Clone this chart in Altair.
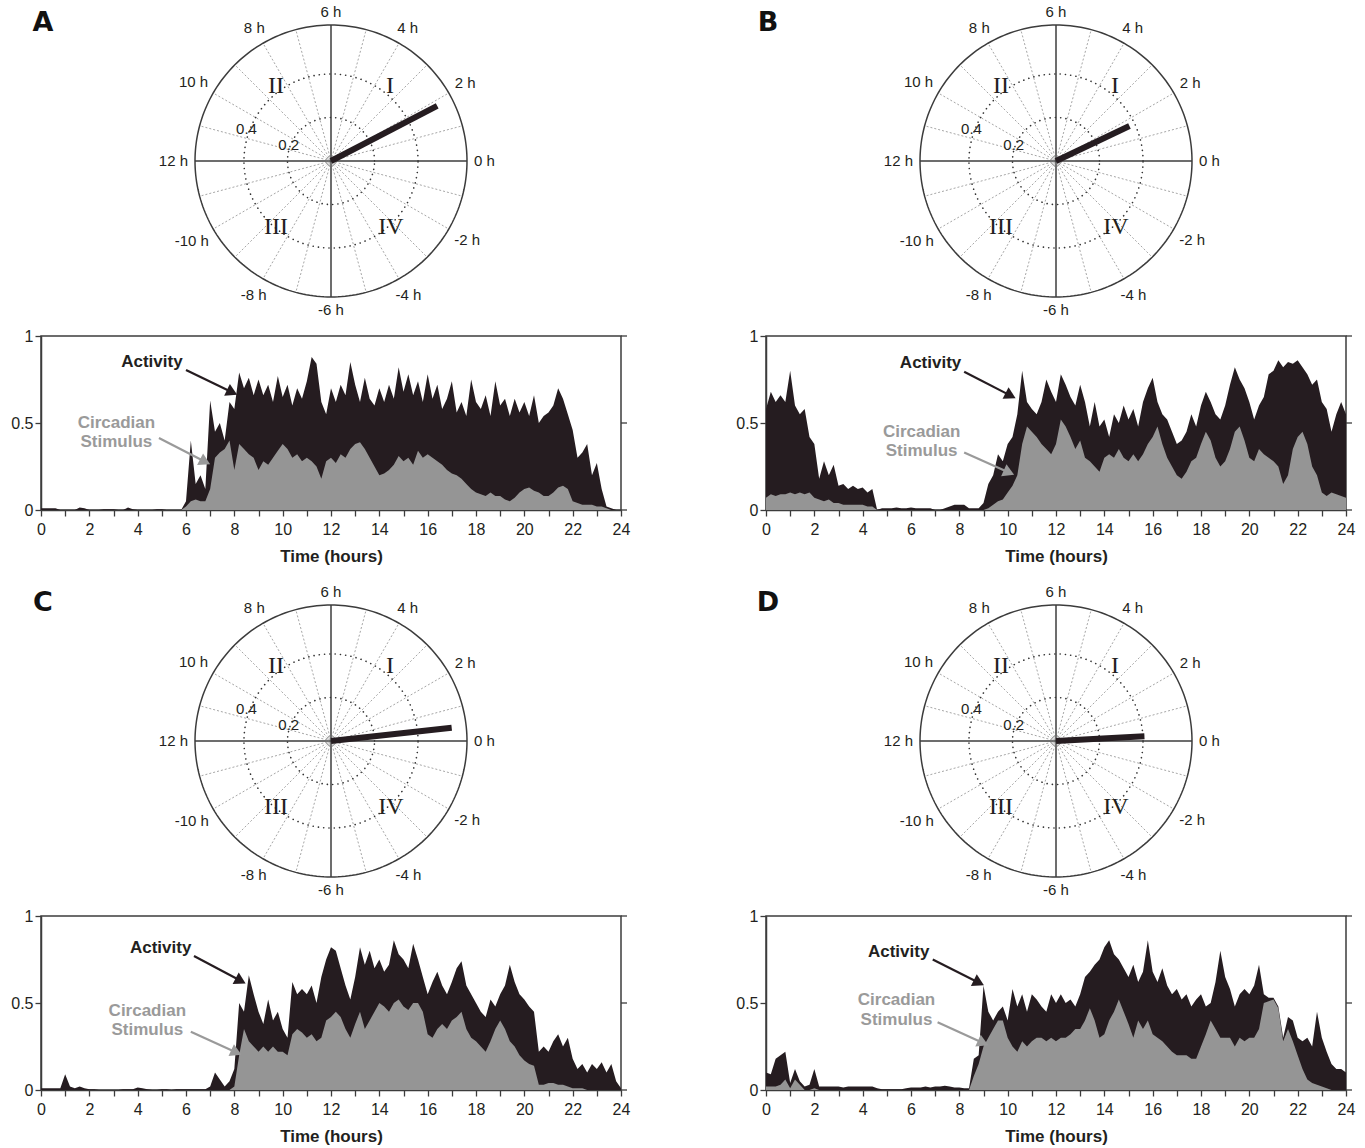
import math
import numpy as np
import pandas as pd
import altair as alt

# ---------------------------------------------------------------- data
# sample grid of the traces (hours)
HOURS = [round(0.2 * i, 1) for i in range(121)]

ACT_A = [
    0.01, 0.01, 0.01, 0.01, 0.00, 0.00, 0.00, 0.00, 0.015, 0.01,
    0.00, 0.00, 0.00, 0.005, 0.005, 0.005, 0.00, 0.00, 0.015, 0.005,
    0.00, 0.00, 0.00, 0.00, 0.005, 0.005, 0.00, 0.00, 0.00, 0.00,
    0.05, 0.40, 0.15, 0.20, 0.12, 0.63, 0.45, 0.50, 0.40, 0.62,
    0.58, 0.79, 0.70, 0.76, 0.66, 0.75, 0.66, 0.72, 0.62, 0.77,
    0.65, 0.72, 0.60, 0.70, 0.64, 0.74, 0.88, 0.84, 0.62, 0.55,
    0.70, 0.62, 0.72, 0.66, 0.85, 0.72, 0.62, 0.76, 0.64, 0.60,
    0.70, 0.62, 0.72, 0.64, 0.82, 0.68, 0.78, 0.66, 0.74, 0.62,
    0.78, 0.64, 0.72, 0.58, 0.64, 0.74, 0.56, 0.62, 0.54, 0.75,
    0.62, 0.58, 0.66, 0.54, 0.74, 0.60, 0.64, 0.54, 0.64, 0.56,
    0.62, 0.54, 0.66, 0.50, 0.54, 0.56, 0.60, 0.70, 0.64, 0.55,
    0.46, 0.30, 0.33, 0.38, 0.20, 0.27, 0.12, 0.02, 0.01, 0.00,
    0.00,
]
STIM_A = [
    0.00, 0.00, 0.00, 0.00, 0.00, 0.00, 0.00, 0.00, 0.00, 0.00,
    0.00, 0.00, 0.00, 0.00, 0.00, 0.00, 0.00, 0.00, 0.00, 0.00,
    0.00, 0.00, 0.00, 0.00, 0.00, 0.00, 0.00, 0.00, 0.00, 0.00,
    0.02, 0.05, 0.06, 0.05, 0.05, 0.12, 0.30, 0.33, 0.35, 0.40,
    0.23, 0.38, 0.35, 0.32, 0.30, 0.23, 0.28, 0.26, 0.30, 0.34,
    0.38, 0.35, 0.30, 0.32, 0.28, 0.30, 0.28, 0.25, 0.18, 0.28,
    0.30, 0.27, 0.32, 0.30, 0.35, 0.38, 0.39, 0.35, 0.30, 0.25,
    0.20, 0.21, 0.23, 0.26, 0.31, 0.28, 0.30, 0.26, 0.34, 0.30,
    0.32, 0.30, 0.28, 0.26, 0.23, 0.21, 0.20, 0.18, 0.15, 0.12,
    0.10, 0.09, 0.08, 0.10, 0.08, 0.08, 0.06, 0.05, 0.07, 0.10,
    0.12, 0.13, 0.11, 0.10, 0.08, 0.08, 0.10, 0.13, 0.14, 0.12,
    0.05, 0.04, 0.03, 0.03, 0.03, 0.02, 0.02, 0.01, 0.00, 0.00,
    0.00,
]
ACT_B = [
    0.58, 0.68, 0.62, 0.66, 0.62, 0.80, 0.60, 0.55, 0.58, 0.42,
    0.38, 0.18, 0.28, 0.20, 0.26, 0.14, 0.15, 0.12, 0.14, 0.12,
    0.13, 0.10, 0.12, 0.00, 0.01, 0.01, 0.01, 0.015, 0.01, 0.01,
    0.015, 0.01, 0.01, 0.01, 0.01, 0.00, 0.00, 0.01, 0.02, 0.03,
    0.03, 0.03, 0.01, 0.01, 0.01, 0.04, 0.15, 0.20, 0.32, 0.28,
    0.38, 0.42, 0.55, 0.80, 0.62, 0.58, 0.55, 0.62, 0.75, 0.68,
    0.62, 0.78, 0.72, 0.65, 0.60, 0.72, 0.62, 0.48, 0.62, 0.48,
    0.52, 0.42, 0.55, 0.50, 0.60, 0.52, 0.58, 0.48, 0.62, 0.70,
    0.76, 0.62, 0.55, 0.52, 0.45, 0.38, 0.40, 0.45, 0.55, 0.48,
    0.60, 0.68, 0.62, 0.55, 0.52, 0.60, 0.72, 0.82, 0.75, 0.70,
    0.62, 0.52, 0.60, 0.65, 0.78, 0.80, 0.86, 0.82, 0.85, 0.84,
    0.86, 0.82, 0.78, 0.72, 0.75, 0.62, 0.58, 0.45, 0.55, 0.62,
    0.55,
]
STIM_B = [
    0.07, 0.09, 0.08, 0.09, 0.09, 0.10, 0.09, 0.10, 0.09, 0.10,
    0.07, 0.06, 0.05, 0.06, 0.04, 0.04, 0.03, 0.03, 0.03, 0.03,
    0.03, 0.02, 0.02, 0.00, 0.00, 0.00, 0.00, 0.00, 0.00, 0.00,
    0.00, 0.00, 0.00, 0.00, 0.00, 0.00, 0.00, 0.00, 0.00, 0.00,
    0.00, 0.00, 0.00, 0.00, 0.00, 0.00, 0.01, 0.03, 0.05, 0.06,
    0.10, 0.14, 0.20, 0.38, 0.48, 0.45, 0.42, 0.38, 0.35, 0.32,
    0.38, 0.52, 0.48, 0.42, 0.35, 0.40, 0.30, 0.28, 0.25, 0.22,
    0.30, 0.32, 0.30, 0.35, 0.30, 0.28, 0.32, 0.28, 0.32, 0.38,
    0.42, 0.48, 0.38, 0.30, 0.25, 0.20, 0.18, 0.22, 0.28, 0.30,
    0.38, 0.45, 0.40, 0.30, 0.25, 0.28, 0.35, 0.45, 0.48, 0.40,
    0.30, 0.28, 0.35, 0.32, 0.30, 0.28, 0.25, 0.15, 0.20, 0.35,
    0.42, 0.45, 0.38, 0.25, 0.20, 0.10, 0.08, 0.10, 0.09, 0.08,
    0.07,
]
ACT_C = [
    0.01, 0.01, 0.01, 0.01, 0.01, 0.09, 0.02, 0.01, 0.02, 0.01,
    0.005, 0.005, 0.00, 0.00, 0.00, 0.00, 0.00, 0.005, 0.005, 0.005,
    0.015, 0.01, 0.005, 0.00, 0.00, 0.005, 0.005, 0.00, 0.005, 0.005,
    0.005, 0.005, 0.005, 0.005, 0.005, 0.02, 0.10, 0.06, 0.02, 0.05,
    0.12, 0.50, 0.45, 0.66, 0.55, 0.45, 0.38, 0.52, 0.40, 0.45,
    0.35, 0.30, 0.62, 0.55, 0.58, 0.55, 0.60, 0.50, 0.65, 0.75,
    0.82, 0.80, 0.70, 0.60, 0.52, 0.65, 0.82, 0.72, 0.80, 0.70,
    0.75, 0.68, 0.72, 0.86, 0.78, 0.75, 0.70, 0.84, 0.75, 0.65,
    0.55, 0.62, 0.68, 0.60, 0.55, 0.62, 0.70, 0.74, 0.60, 0.55,
    0.50, 0.45, 0.42, 0.52, 0.48, 0.55, 0.60, 0.72, 0.62, 0.55,
    0.52, 0.48, 0.45, 0.22, 0.25, 0.22, 0.28, 0.32, 0.25, 0.30,
    0.18, 0.12, 0.15, 0.10, 0.15, 0.12, 0.16, 0.10, 0.15, 0.05,
    0.01,
]
STIM_C = [
    0.00, 0.00, 0.00, 0.00, 0.00, 0.00, 0.00, 0.00, 0.00, 0.00,
    0.00, 0.00, 0.00, 0.00, 0.00, 0.00, 0.00, 0.00, 0.00, 0.00,
    0.00, 0.00, 0.00, 0.00, 0.00, 0.00, 0.00, 0.00, 0.00, 0.00,
    0.00, 0.00, 0.00, 0.00, 0.00, 0.00, 0.00, 0.00, 0.00, 0.00,
    0.02, 0.20, 0.35, 0.28, 0.25, 0.22, 0.25, 0.22, 0.25, 0.22,
    0.22, 0.20, 0.32, 0.35, 0.33, 0.30, 0.32, 0.28, 0.30, 0.40,
    0.42, 0.45, 0.42, 0.35, 0.30, 0.38, 0.45, 0.35, 0.40, 0.45,
    0.50, 0.48, 0.45, 0.50, 0.52, 0.48, 0.46, 0.50, 0.50, 0.45,
    0.32, 0.30, 0.35, 0.38, 0.35, 0.40, 0.42, 0.45, 0.35, 0.30,
    0.28, 0.25, 0.22, 0.28, 0.35, 0.40, 0.35, 0.28, 0.25, 0.20,
    0.17, 0.15, 0.14, 0.03, 0.03, 0.04, 0.04, 0.03, 0.03, 0.02,
    0.01, 0.01, 0.01, 0.00, 0.00, 0.00, 0.00, 0.00, 0.00, 0.00,
    0.00,
]
ACT_D = [
    0.10, 0.09, 0.18, 0.20, 0.22, 0.04, 0.12, 0.05, 0.02, 0.03,
    0.12, 0.02, 0.02, 0.02, 0.02, 0.02, 0.015, 0.02, 0.02, 0.02,
    0.02, 0.02, 0.02, 0.01, 0.005, 0.005, 0.005, 0.005, 0.005, 0.01,
    0.015, 0.015, 0.015, 0.02, 0.015, 0.02, 0.02, 0.025, 0.02, 0.015,
    0.015, 0.01, 0.01, 0.18, 0.20, 0.60, 0.45, 0.40, 0.45, 0.48,
    0.40, 0.58, 0.48, 0.55, 0.45, 0.55, 0.52, 0.48, 0.45, 0.55,
    0.50, 0.55, 0.50, 0.52, 0.48, 0.55, 0.65, 0.68, 0.72, 0.75,
    0.82, 0.86, 0.78, 0.75, 0.70, 0.65, 0.72, 0.62, 0.68, 0.86,
    0.68, 0.62, 0.70, 0.60, 0.55, 0.58, 0.52, 0.55, 0.48, 0.52,
    0.55, 0.48, 0.50, 0.62, 0.80, 0.65, 0.58, 0.48, 0.55, 0.58,
    0.55, 0.60, 0.72, 0.55, 0.53, 0.53, 0.48, 0.30, 0.42, 0.40,
    0.30, 0.28, 0.30, 0.25, 0.45, 0.30, 0.22, 0.15, 0.12, 0.12,
    0.10,
]
STIM_D = [
    0.02, 0.02, 0.02, 0.03, 0.06, 0.01, 0.06, 0.03, 0.00, 0.00,
    0.01, 0.00, 0.00, 0.00, 0.00, 0.00, 0.00, 0.00, 0.00, 0.00,
    0.00, 0.00, 0.00, 0.00, 0.00, 0.00, 0.00, 0.00, 0.00, 0.00,
    0.00, 0.00, 0.00, 0.00, 0.00, 0.00, 0.00, 0.00, 0.00, 0.00,
    0.00, 0.00, 0.00, 0.08, 0.15, 0.25, 0.30, 0.35, 0.40, 0.40,
    0.30, 0.25, 0.22, 0.28, 0.25, 0.28, 0.30, 0.30, 0.28, 0.30,
    0.28, 0.30, 0.30, 0.32, 0.35, 0.35, 0.40, 0.47, 0.40, 0.30,
    0.32, 0.40, 0.45, 0.52, 0.45, 0.38, 0.30, 0.40, 0.35, 0.40,
    0.32, 0.30, 0.28, 0.25, 0.22, 0.20, 0.20, 0.20, 0.18, 0.18,
    0.25, 0.32, 0.40, 0.35, 0.30, 0.30, 0.30, 0.25, 0.30, 0.28,
    0.30, 0.30, 0.35, 0.50, 0.51, 0.52, 0.47, 0.28, 0.35, 0.28,
    0.20, 0.12, 0.06, 0.04, 0.03, 0.02, 0.01, 0.00, 0.00, 0.00,
    0.00,
]

# phase vector of each dial: (hours, magnitude)
VECTORS = {"A": (1.83, 0.55), "B": (1.70, 0.374), "C": (0.42, 0.558), "D": (0.21, 0.407)}

# dial labels
HOUR_TICKS = [0, 2, 4, 6, 8, 10, 12, -10, -8, -6, -4, -2]
HOUR_TEXT = ["0 h", "2 h", "4 h", "6 h", "8 h", "10 h", "12 h", "-10 h", "-8 h", "-6 h", "-4 h", "-2 h"]
RING_VALUES = [0.2, 0.4]
RING_TEXT = ["0.2", "0.4"]
QUADRANTS = ["I", "II", "III", "IV"]

# trace axes
X_TICKS = list(range(25))
Y_TICKS = [0, 0.5, 1]

# annotation anchors per panel (hours, value)
ANNOT = {
    "A": dict(act_txt=(4.59, 0.852), stim_txt=(3.12, 0.50, 0.39),
              act_arrow=(6.0, 0.805, 8.15, 0.66), stim_arrow=(4.88, 0.414, 7.03, 0.26)),
    "B": dict(act_txt=(6.81, 0.843), stim_txt=(6.44, 0.446, 0.337),
              act_arrow=(8.2, 0.795, 10.36, 0.64), stim_arrow=(8.2, 0.33, 10.3, 0.2)),
    "C": dict(act_txt=(4.95, 0.818), stim_txt=(4.40, 0.456, 0.347),
              act_arrow=(6.33, 0.77, 8.5, 0.61), stim_arrow=(6.2, 0.335, 8.33, 0.2)),
    "D": dict(act_txt=(5.49, 0.795), stim_txt=(5.40, 0.52, 0.405),
              act_arrow=(6.9, 0.75, 9.05, 0.6), stim_arrow=(7.1, 0.39, 9.23, 0.255)),
}
SERIES = {"A": (ACT_A, STIM_A), "B": (ACT_B, STIM_B), "C": (ACT_C, STIM_C), "D": (ACT_D, STIM_D)}
for k, (a, s) in SERIES.items():
    assert len(a) == len(HOURS) and len(s) == len(HOURS), k

# ---------------------------------------------------------------- style
ACT_COLOR = "#251c20"
STIM_COLOR = "#959595"
GREY_TXT = "#9a9a9a"
INK = "#231f20"
FRAME = "#3c3c3c"
SANS = "Liberation Sans"

# ---------------------------------------------------------------- dial geometry
PX_PER_UNIT = 217.6
DIAL_R = 0.625
DIAL_W, DIAL_H = 580, 336
DIAL_CX, DIAL_CY = 290, 161
ROW_GAP = 70          # blank band above the lower dials


def px(v):
    return v / PX_PER_UNIT


def ring(r, n=241):
    a = np.linspace(0, 2 * np.pi, n)
    return pd.DataFrame({"x": r * np.cos(a), "y": r * np.sin(a), "k": np.arange(n)})


def halfwidth(s, size=15):
    w = {"-": 0.333, " ": 0.278}
    return 0.5 * size * sum(w.get(c, 0.556) for c in s)


def dial(letter, top_gap=0):
    hours, mag = VECTORS[letter]
    R = DIAL_R
    rpx = R * PX_PER_UNIT
    height = DIAL_H + top_gap
    cy = DIAL_CY + top_gap
    xs = alt.Scale(domain=[-px(DIAL_CX), px(DIAL_W - DIAL_CX)], nice=False, zero=False)
    ys = alt.Scale(domain=[-px(height - cy), px(cy)], nice=False, zero=False)

    def dx(f="x"):
        return alt.X(f"{f}:Q", scale=xs, axis=None)

    def dy(f="y"):
        return alt.Y(f"{f}:Q", scale=ys, axis=None)

    layers = []

    angs = [a for a in range(0, 360, 15) if a % 90 != 0]
    spokes = pd.DataFrame({
        "x": 0.0, "y": 0.0,
        "x2": [R * math.cos(math.radians(a)) for a in angs],
        "y2": [R * math.sin(math.radians(a)) for a in angs],
    })
    layers.append(alt.Chart(spokes).mark_rule(color="#9c9c9c", strokeWidth=0.9, strokeDash=[2, 2])
                  .encode(x=dx(), y=dy(), x2="x2:Q", y2="y2:Q"))

    for r in RING_VALUES:
        layers.append(alt.Chart(ring(r)).mark_line(color="#333333", strokeWidth=1.6,
                                                   strokeDash=[0.1, 5.2], strokeCap="round")
                      .encode(x=dx(), y=dy(), order="k:Q"))

    layers.append(alt.Chart(ring(R)).mark_line(color=FRAME, strokeWidth=1.5)
                  .encode(x=dx(), y=dy(), order="k:Q"))

    cross = pd.DataFrame({"x": [-R, 0.0], "y": [0.0, -R], "x2": [R, 0.0], "y2": [0.0, R]})
    layers.append(alt.Chart(cross).mark_rule(color=FRAME, strokeWidth=1.5)
                  .encode(x=dx(), y=dy(), x2="x2:Q", y2="y2:Q"))

    hub = pd.DataFrame({"x": 0.0, "y": 0.0, "s": [10, 36, 80]})
    layers.append(alt.Chart(hub).mark_point(shape="circle", filled=False, color="#8a8a8a", strokeWidth=0.6)
                  .encode(x=dx(), y=dy(), size=alt.Size("s:Q", scale=None)))

    th = math.radians(hours * 15)
    vec = pd.DataFrame({"x": [0.0], "y": [0.0], "x2": [mag * math.cos(th)], "y2": [mag * math.sin(th)]})
    layers.append(alt.Chart(vec).mark_rule(color=ACT_COLOR, strokeWidth=6, strokeCap="butt")
                  .encode(x=dx(), y=dy(), x2="x2:Q", y2="y2:Q"))

    lx, ly = [], []
    for h, s in zip(HOUR_TICKS, HOUR_TEXT):
        a = math.radians(h * 15)
        c, sn = math.cos(a), math.sin(a)
        r_lab = rpx + 7 + halfwidth(s) * abs(c) + 6 * abs(sn)
        lx.append(px(r_lab * c))
        ly.append(px(r_lab * sn))
    hl = pd.DataFrame({"x": lx, "y": ly, "t": HOUR_TEXT})
    layers.append(alt.Chart(hl).mark_text(font=SANS, fontSize=15, color=INK, align="center", baseline="middle")
                  .encode(x=dx(), y=dy(), text="t:N"))

    ra = math.radians(159)
    rl = pd.DataFrame({"x": [v * 1.04 * math.cos(ra) for v in RING_VALUES],
                       "y": [v * 1.04 * math.sin(ra) for v in RING_VALUES], "t": RING_TEXT})
    layers.append(alt.Chart(rl).mark_text(font=SANS, fontSize=15, color=INK, align="center", baseline="middle")
                  .encode(x=dx(), y=dy(), text="t:N"))

    qd = pd.DataFrame({"x": [px(59), px(-55), px(-55), px(60)],
                       "y": [px(75), px(75), px(-66), px(-66)], "t": QUADRANTS})
    layers.append(alt.Chart(qd).mark_text(font="Liberation Serif", fontSize=24, color=INK,
                                          align="center", baseline="middle")
                  .encode(x=dx(), y=dy(), text="t:N"))

    tag = pd.DataFrame({"x": [px(42 - 290 - 40)], "y": [px(161 - 23)], "t": [letter]})
    layers.append(alt.Chart(tag).mark_text(font="DejaVu Sans", fontSize=27, fontWeight="bold", color="#111111",
                                           align="center", baseline="middle")
                  .encode(x=dx(), y=dy(), text="t:N"))

    return alt.layer(*layers).properties(width=DIAL_W, height=height)


# ---------------------------------------------------------------- traces
TR_W, TR_H = 580, 174
T_SCALE = alt.Scale(domain=[0, 24], nice=False, zero=False)
V_SCALE = alt.Scale(domain=[0, 1], nice=False)
X_AXIS = alt.Axis(values=X_TICKS, labelExpr="datum.value % 2 == 0 ? datum.label : ''",
                  tickSize=6, labelPadding=5, titlePadding=11, title="Time (hours)",
                  labelOverlap=False, labelFlush=False, grid=False, orient="bottom")
Y_AXIS = alt.Axis(values=Y_TICKS, format="~g", tickSize=6, labelPadding=2, title=None, grid=False,
                  orient="left", labelFlush=False, labelOverlap=False)
PX_H = TR_W / 24.0
PX_V = TR_H / 1.0


def tx(f):
    return alt.X(f"{f}:Q", scale=T_SCALE, axis=X_AXIS)


def ty(f):
    return alt.Y(f"{f}:Q", scale=V_SCALE, axis=Y_AXIS)


def arrow(x0, y0, x1, y1, color, size=170):
    ang = math.degrees(math.atan2((y0 - y1) * PX_V, (x1 - x0) * PX_H))
    back = math.sqrt(size) / 2
    xc = x1 - back * math.cos(math.radians(ang)) / PX_H
    yc = y1 + back * math.sin(math.radians(ang)) / PX_V
    shaft = pd.DataFrame({"x": [x0], "y": [y0], "x2": [xc], "y2": [yc]})
    head = pd.DataFrame({"x": [xc], "y": [yc], "a": [ang]})
    return [
        alt.Chart(shaft).mark_rule(color=color, strokeWidth=2.2).encode(x=tx("x"), y=ty("y"), x2="x2:Q", y2="y2:Q"),
        alt.Chart(head).mark_point(shape="triangle-right", filled=True, opacity=1, color=color, size=size)
        .encode(x=tx("x"), y=ty("y"), angle=alt.Angle("a:Q", scale=None)),
    ]


def trace(letter):
    act, stim = SERIES[letter]
    an = ANNOT[letter]
    df = pd.DataFrame({"t": HOURS, "act": act, "stim": stim})
    base = alt.Chart(df)
    act_l = base.mark_area(color=ACT_COLOR, interpolate="linear").encode(x=tx("t"), y=ty("act"))
    stim_l = base.mark_area(color=STIM_COLOR, interpolate="linear").encode(x=tx("t"), y=ty("stim"))

    # tick marks on the right-hand frame
    right_ticks = (alt.Chart(pd.DataFrame({"v": Y_TICKS}))
                   .mark_rule(color=FRAME, strokeWidth=1.3)
                   .encode(x=alt.value(TR_W), x2=alt.value(TR_W + 6), y=ty("v")))

    ax, ay = an["act_txt"]
    sx, sy1, sy2 = an["stim_txt"]
    t1 = pd.DataFrame({"x": [ax], "y": [ay], "t": ["Activity"]})
    t2 = pd.DataFrame({"x": [sx, sx], "y": [sy1, sy2], "t": ["Circadian", "Stimulus"]})
    txt_act = alt.Chart(t1).mark_text(font=SANS, fontSize=17, fontWeight="bold", color=INK,
                                      align="center", baseline="middle").encode(x=tx("x"), y=ty("y"), text="t:N")
    txt_stim = alt.Chart(t2).mark_text(font=SANS, fontSize=17, fontWeight="bold", color=GREY_TXT,
                                       align="center", baseline="middle").encode(x=tx("x"), y=ty("y"), text="t:N")
    layers = [act_l, stim_l, right_ticks, txt_act, txt_stim]
    layers += arrow(*an["act_arrow"], color=ACT_COLOR)
    layers += arrow(*an["stim_arrow"], color=GREY_TXT)
    return (alt.layer(*layers)
            .properties(width=TR_W, height=TR_H,
                        view=alt.ViewBackground(stroke=FRAME, strokeWidth=1.5)))


cells = [
    dial("A"), dial("B"),
    trace("A"), trace("B"),
    dial("C", ROW_GAP), dial("D", ROW_GAP),
    trace("C"), trace("D"),
]

chart = (
    alt.concat(*cells, columns=2, spacing=alt.RowColnumber(row=0, column=145),
               bounds="flush", align="each")
    .properties(padding={"left": 10, "top": 0, "right": 8, "bottom": 2}, background="white")
    .configure_view(strokeWidth=0)
    .configure_axis(labelFont=SANS, labelFontSize=16, labelColor=INK,
                    titleFont=SANS, titleFontSize=17, titleFontWeight="bold", titleColor=INK,
                    domainColor=FRAME, domainWidth=1.5, tickColor=FRAME, tickWidth=1.3)
)

chart.save("out.html", embed_options={"renderer": "svg", "actions": False})
